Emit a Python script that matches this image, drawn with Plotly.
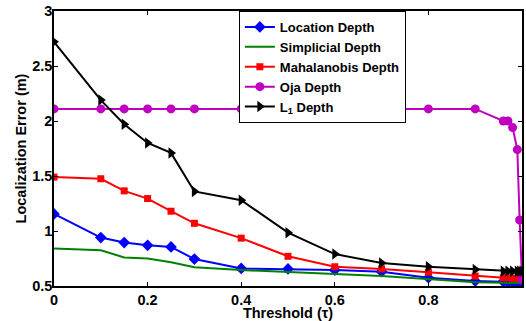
import plotly.graph_objects as go

x_main = [0, 0.1, 0.15, 0.2, 0.25, 0.3, 0.4, 0.5, 0.6, 0.7, 0.8, 0.9, 0.96, 0.97, 0.98, 0.99, 0.995, 1.0]

location = [1.155, 0.94, 0.895, 0.87, 0.855, 0.745, 0.66, 0.655, 0.645, 0.63, 0.575, 0.545, 0.54, 0.535, 0.535, 0.53, 0.53, 0.53]
simplicial = [0.84, 0.825, 0.76, 0.75, 0.715, 0.67, 0.645, 0.63, 0.61, 0.59, 0.565, 0.535, 0.53, 0.53, 0.525, 0.525, 0.525, 0.525]
mahalanobis = [1.49, 1.475, 1.365, 1.295, 1.18, 1.07, 0.935, 0.77, 0.675, 0.655, 0.625, 0.59, 0.575, 0.575, 0.57, 0.57, 0.57, 0.57]
oja = [2.11, 2.11, 2.11, 2.11, 2.11, 2.11, 2.11, 2.11, 2.11, 2.11, 2.11, 2.11, 2.0, 2.0, 1.94, 1.74, 1.1, 0.56]
l1 = [2.72, 2.19, 1.97, 1.80, 1.71, 1.36, 1.28, 0.985, 0.79, 0.71, 0.675, 0.65, 0.635, 0.635, 0.635, 0.635, 0.635, 0.635]

x_ticks = [0, 0.2, 0.4, 0.6, 0.8, 1]
x_tick_text = ["0", "0.2", "0.4", "0.6", "0.8", "1"]
y_ticks = [0.5, 1, 1.5, 2, 2.5, 3]
y_tick_text = ["0.5", "1", "1.5", "2", "2.5", "3"]

series = [
    ("Location Depth", location, "#0000ff", "diamond", 9),
    ("Simplicial Depth", simplicial, "#008000", None, 0),
    ("Mahalanobis Depth", mahalanobis, "#ff0000", "square", 7),
    ("Oja Depth", oja, "#bf00bf", "circle", 9),
    ("L<sub>1</sub> Depth", l1, "#000000", "triangle-right", 10),
]

fig = go.Figure()
for name, ys, color, sym, size in series:
    if sym is None:
        fig.add_trace(go.Scatter(x=x_main, y=ys, name=name, mode="lines",
                                 line=dict(color=color, width=2)))
    else:
        fig.add_trace(go.Scatter(x=x_main, y=ys, name=name, mode="lines+markers",
                                 line=dict(color=color, width=2),
                                 marker=dict(symbol=sym, size=size, color=color)))

FAM = "Liberation Sans, Arial"
font = dict(family=FAM, size=14.5, color="black", weight="bold")

fig.update_layout(
    width=526, height=321,
    margin=dict(l=54, r=4, t=11, b=35),
    plot_bgcolor="white", paper_bgcolor="white",
    font=font,
    showlegend=True,
    legend=dict(x=0.395, y=1, xanchor="left", yanchor="top",
                bgcolor="white", bordercolor="black", borderwidth=1,
                font=dict(family=FAM, size=13, color="black", weight="bold"),
                tracegroupgap=0, itemwidth=30),
    xaxis=dict(range=[0, 1], tickvals=x_ticks, ticktext=x_tick_text,
               showline=True, linecolor="black", linewidth=1.5, mirror="ticks",
               ticks="inside", ticklen=4, tickcolor="black", showgrid=False, zeroline=False,
               automargin=False,
               title=dict(text="Threshold (τ)", standoff=0, font=dict(family=FAM, size=14.5, weight="bold")),
               tickfont=dict(family=FAM, size=14.5, weight="bold")),
    yaxis=dict(range=[0.5, 3], tickvals=y_ticks, ticktext=y_tick_text,
               showline=True, linecolor="black", linewidth=1.5, mirror="ticks",
               ticks="inside", ticklen=4, tickcolor="black", showgrid=False, zeroline=False,
               automargin=False, ticklabelstandoff=-3,
               title=dict(text="Localization Error (m)", standoff=2, font=dict(family=FAM, size=14.5, weight="bold")),
               tickfont=dict(family=FAM, size=14.5, weight="bold")),
)

fig.write_html("out.html", config={"displayModeBar": False},
               post_script="document.body.style.margin='0';")
